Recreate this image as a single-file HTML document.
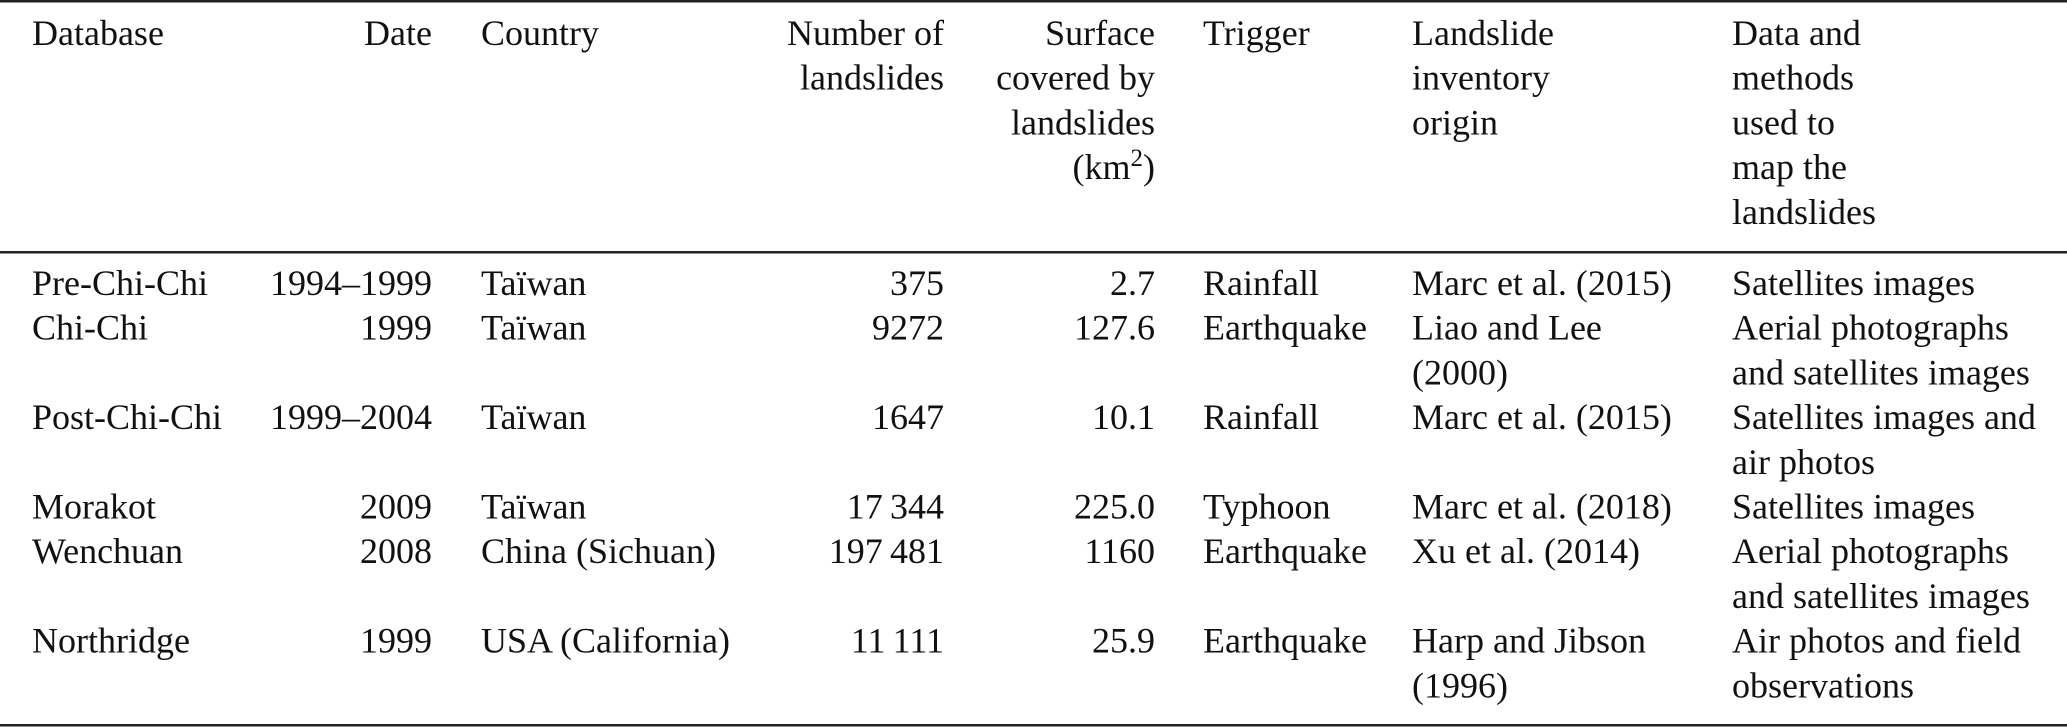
<!DOCTYPE html>
<html><head><meta charset="utf-8"><style>
html,body{margin:0;padding:0;background:#fff;}
svg{display:block;}
text{font-family:"Liberation Serif",serif;font-size:36px;fill:#111;}
</style></head>
<body>
<svg id="tbl" width="2067" height="727" viewBox="0 0 2067 727">
<rect x="0" y="0" width="2067" height="2.5" fill="#222"/>
<rect x="0" y="251" width="2067" height="2.5" fill="#222"/>
<rect x="0" y="724" width="2067" height="2.5" fill="#222"/>
<text x="1155" y="179" text-anchor="end">(km<tspan dy="-13" font-size="25">2</tspan><tspan dy="13">)</tspan></text>
<g id="cells"></g>
</svg>
<script>
const cols = [32, 432, 481, 944, 1155, 1203, 1412, 1732];
const anchors = ['start','end','start','end','end','start','start','start'];
const headers = [
  ['Database'],['Date'],['Country'],['Number of','landslides'],
  ['Surface','covered by','landslides'],['Trigger'],
  ['Landslide','inventory','origin'],['Data and','methods','used to','map the','landslides']
];
const rows = [
  [['Pre-Chi-Chi'],['1994–1999'],['Taïwan'],['375'],['2.7'],['Rainfall'],['Marc et al. (2015)'],['Satellites images']],
  [['Chi-Chi'],['1999'],['Taïwan'],['9272'],['127.6'],['Earthquake'],['Liao and Lee','(2000)'],['Aerial photographs','and satellites images']],
  [['Post-Chi-Chi'],['1999–2004'],['Taïwan'],['1647'],['10.1'],['Rainfall'],['Marc et al. (2015)'],['Satellites images and','air photos']],
  [['Morakot'],['2009'],['Taïwan'],['17\u2009344'],['225.0'],['Typhoon'],['Marc et al. (2018)'],['Satellites images']],
  [['Wenchuan'],['2008'],['China (Sichuan)'],['197\u2009481'],['1160'],['Earthquake'],['Xu et al. (2014)'],['Aerial photographs','and satellites images']],
  [['Northridge'],['1999'],['USA (California)'],['11\u2009111'],['25.9'],['Earthquake'],['Harp and Jibson','(1996)'],['Air photos and field','observations']]
];
const g = document.getElementById('cells');
const LH = 44.7;
function put(x, y, s, anchor, name){
  const t = document.createElementNS('http://www.w3.org/2000/svg','text');
  t.setAttribute('x', x); t.setAttribute('y', y);
  t.setAttribute('text-anchor', anchor);
  
  
  t.textContent = s;
  g.appendChild(t);
}
headers.forEach((h,c)=>h.forEach((s,i)=>put(cols[c], 45+i*LH, s, anchors[c], 'header-cell')));
let line = 0;
rows.forEach((r)=>{
  let maxL = 1;
  r.forEach((cell,c)=>{
    cell.forEach((s,i)=>put(cols[c], 295+(line+i)*LH, s, anchors[c], 'table-cell'));
    maxL = Math.max(maxL, cell.length);
  });
  line += maxL;
});
</script>
</body></html>
